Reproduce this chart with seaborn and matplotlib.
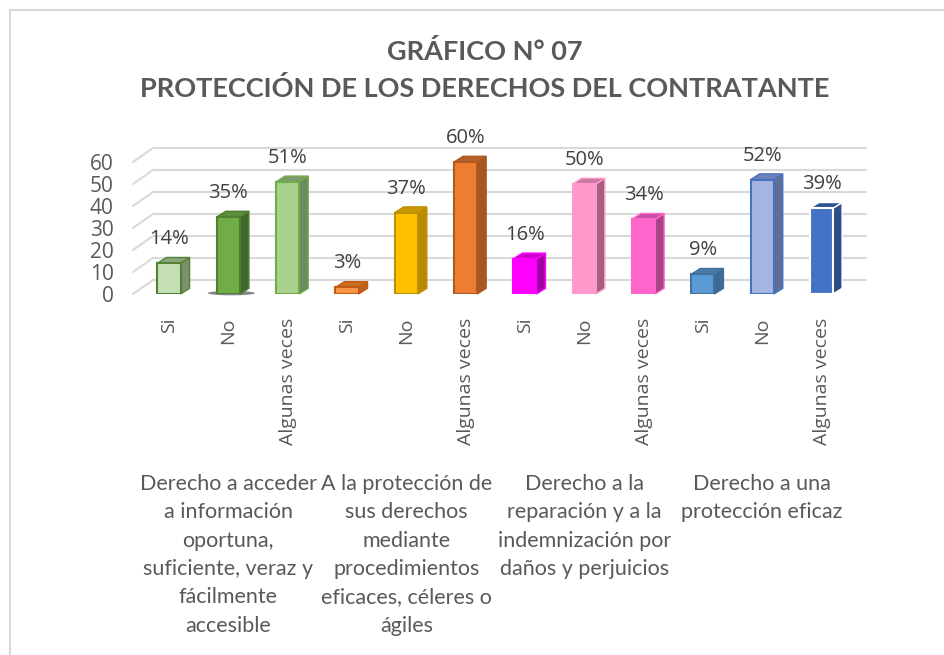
import matplotlib
matplotlib.use("Agg")
import matplotlib.pyplot as plt
import matplotlib.transforms as mtransforms
from matplotlib import font_manager as fm
from matplotlib.patches import Polygon, Ellipse
from matplotlib.lines import Line2D
import pandas as pd
import seaborn as sns

# Data
respuestas = ["Si", "No", "Algunas veces",
              "Si", "No", "Algunas veces",
              "Si", "No", "Algunas veces",
              "Si", "No", "Algunas veces"]
porcentajes = [14, 35, 51, 3, 37, 60, 16, 50, 34, 9, 52, 39]
grupos = [
    "Derecho a acceder\na información\noportuna,\nsuficiente, veraz y\nfácilmente\naccesible",
    "A la protección de\nsus derechos\nmediante\nprocedimientos\neficaces, céleres o\nágiles",
    "Derecho a la\nreparación y a la\nindemnización por\ndaños y perjuicios",
    "Derecho a una\nprotección eficaz",
]
titulo = "GRÁFICO N° 07\nPROTECCIÓN DE LOS DERECHOS DEL CONTRATANTE"

# Colours: front face, edge, side face, top face
caras = ["#C5E0B4", "#70AD47", "#A9D18E", "#F79646", "#FFC000", "#ED7D31",
         "#FF00FF", "#FF99CC", "#FF66CC", "#5B9BD5", "#A5B4E0", "#4472C4"]
bordes = ["#548235", "#507E32", "#70AD47", "#C55A11", "#BF9000", "#AE5A21",
          "#FF00FF", "#FF99CC", "#FF66CC", "#41719C", "#4472C4", "#FFFFFF"]
lados = ["#7C9070", "#43682B", "#6E8A5E", "#B8641F", "#B88A00", "#A55622",
         "#A300A3", "#A3607F", "#A84489", "#3E6A92", "#5F6E92", "#2E4C85"]
techos = ["#8DA57E", "#5E8C3E", "#7E9A6D", "#C8701F", "#C99700", "#B3602A",
          "#CC00CC", "#C97AA3", "#CC4FA5", "#4A7BA8", "#6E81B0", "#2F5597"]


def pick(*names):
    for n in names:
        try:
            fm.findfont(fm.FontProperties(family=n), fallback_to_default=False)
            return n
        except ValueError:
            pass
    return "DejaVu Sans"


f_main = pick("Open Sans", "Noto Sans", "DejaVu Sans")
f_calibri = pick("Lato", "Liberation Sans Narrow", "DejaVu Sans")

df = pd.DataFrame({"id": [str(i) for i in range(len(porcentajes))],
                   "valor": porcentajes})

sns.set_style("white")
plt.rcParams["font.family"] = [f_main, "DejaVu Sans"]
gris = "#595959"

fig = plt.figure(figsize=(9.45, 6.55), dpi=100)
ax = fig.add_axes([133 / 945, 1 - 294 / 655, (866 - 133) / 945, 67 * 2.2 / 655])

sns.barplot(data=df, x="id", y="valor", hue="id", palette=caras,
            saturation=1, width=0.39, legend=False, ax=ax, zorder=3)

xmin, xmax = -0.607, 11.75
ax.set_xlim(xmin, xmax)
ax.set_ylim(0, 67)

# fake 3D back wall gridlines
gdx, gdy = 20 / 59.3, 14 / 2.2
for v in range(0, 70, 10):
    ax.plot([xmin, xmin + gdx], [v, v + gdy], color="#D9D9D9", lw=1.5,
            clip_on=False, zorder=1)
    ax.plot([xmin + gdx, xmax], [v + gdy, v + gdy], color="#D9D9D9", lw=1.5,
            clip_on=False, zorder=1)

# 3D sides and tops of the bars
dx, dy = 9 / 59.3, 5.7 / 2.2
barras = sorted(ax.patches, key=lambda p: p.get_x())
for i, p in enumerate(barras):
    x0 = p.get_x()
    x1 = x0 + p.get_width()
    h = p.get_height()
    p.set_edgecolor(bordes[i])
    p.set_linewidth(1.5)
    lado = Polygon([(x1, 0), (x1 + dx, dy), (x1 + dx, h + dy), (x1, h)],
                   closed=True, facecolor=lados[i], edgecolor=bordes[i],
                   lw=1.0, zorder=2.9, clip_on=False)
    techo = Polygon([(x0, h), (x1, h), (x1 + dx, h + dy), (x0 + dx, h + dy)],
                    closed=True, facecolor=techos[i], edgecolor=bordes[i],
                    lw=1.0, zorder=2.9, clip_on=False)
    ax.add_patch(lado)
    ax.add_patch(techo)
    ax.annotate(f"{porcentajes[i]}%", (x0 + p.get_width() / 2, h + dy),
                xytext=(0, 6), textcoords="offset points", ha="center",
                va="bottom", fontsize=14.5, color="#404040",
                annotation_clip=False)

# shadow under the second bar
p = barras[1]
ax.add_patch(Ellipse((p.get_x() + p.get_width() / 2 + 0.05, 0.4), 0.8, 2.0,
                     facecolor="#202020", alpha=0.55, lw=0, zorder=2,
                     clip_on=False))

ax.set_xticks(range(len(respuestas)))
ax.set_xticklabels(respuestas, rotation=90, fontsize=14, color=gris, va="top")
ax.set_yticks(range(0, 70, 10))
ax.set_yticklabels([str(v) for v in range(0, 70, 10)], fontsize=15, color=gris)
ax.tick_params(axis="x", length=0, pad=17)
ax.tick_params(axis="y", length=0, pad=14)
ax.set_xlabel("")
ax.set_ylabel("")
sns.despine(ax=ax, left=True, bottom=True)

# group labels under each triple of bars
trans = mtransforms.blended_transform_factory(ax.transData, fig.transFigure)
for g, texto in enumerate(grupos):
    ax.text(3 * g + 1, 1 - 474 / 655, texto, transform=trans, ha="center",
            va="top", fontsize=15.5, color=gris, linespacing=1.52,
            family=[f_calibri, "DejaVu Sans"])

fig.text(485 / 945, 1 - 70 / 655, titulo, ha="center", va="center",
         fontsize=19.5, fontweight="bold", color=gris, linespacing=1.6,
         family=[f_calibri, "DejaVu Sans"])

# chart area border (left and top edges visible)
fig.add_artist(Line2D([10 / 945, 10 / 945], [0, 1 - 10 / 655],
                      transform=fig.transFigure, color="#D9D9D9", lw=1.5))
fig.add_artist(Line2D([10 / 945, 1], [1 - 10 / 655, 1 - 10 / 655],
                      transform=fig.transFigure, color="#D9D9D9", lw=1.5))

fig.savefig("out.png", dpi=100)
